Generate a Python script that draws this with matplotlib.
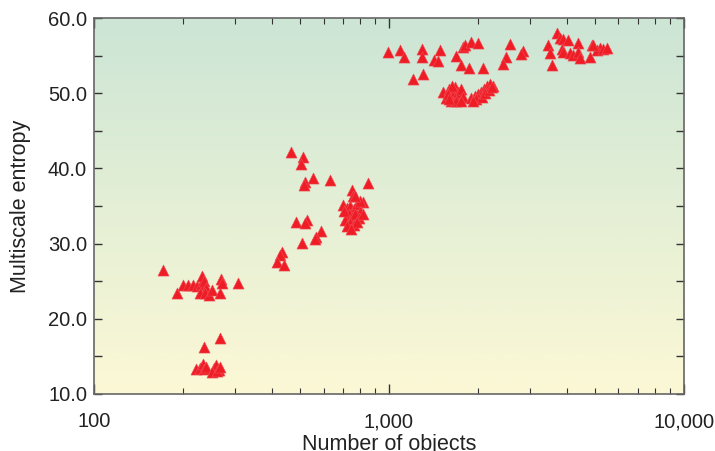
import numpy as np
import matplotlib
matplotlib.use("Agg")
import matplotlib.pyplot as plt
from matplotlib.ticker import FixedLocator, FuncFormatter, NullFormatter
from matplotlib.colors import LinearSegmentedColormap

plt.rcParams['font.family'] = ['Liberation Sans', 'DejaVu Sans']

# ---- data (number of objects, multiscale entropy) ----
low_x = [171, 191, 200, 208, 217, 223, 230, 232, 236, 240, 229, 238, 245, 251, 267, 270, 272, 307]
low_y = [26.5, 23.4, 24.5, 24.5, 24.5, 24.4, 24.6, 25.7, 25.0, 24.1, 23.4, 23.4, 23.2, 23.8, 23.4, 25.3, 24.8, 24.8]

bottom_x = [236, 267, 221, 228, 234, 236, 240, 255, 260, 265, 252, 262, 268]
bottom_y = [16.3, 17.4, 13.3, 13.5, 14.0, 13.3, 13.6, 13.5, 13.9, 13.2, 12.9, 13.1, 13.6]

mid_x = [465, 511, 504, 519, 515, 553, 630, 848, 750, 754, 816, 483, 527, 519, 588, 565, 561, 507,
         434, 427, 417, 440,
         700, 720, 740, 760, 780, 800, 730, 750, 770, 790, 710, 735, 760, 780, 720, 745, 800, 770, 815, 705]
mid_y = [42.2, 41.5, 40.6, 38.2, 37.8, 38.7, 38.5, 38.1, 37.1, 36.3, 35.5, 32.9, 33.1, 32.7, 31.7, 30.9, 30.6, 30.1,
         28.9, 28.5, 27.6, 27.2,
         35.2, 34.8, 35.0, 34.6, 35.3, 34.2, 34.0, 33.6, 33.9, 33.4, 33.2, 32.8, 32.5, 32.9, 32.3, 32.0, 35.7, 36.3, 34.0, 34.3]

high_x = [993, 1089, 1124, 1296, 1296, 1490, 1417, 1466, 1684, 1786, 1814, 1900, 2005, 1758, 1872, 2083,
          1207, 1305,
          1520, 1560, 1600, 1620, 1650, 1680, 1700, 1720, 1750, 1780, 1640, 1580, 1690, 1760, 1600,
          1900, 1950, 2000, 2050, 2100, 2150, 2200, 2250, 1980, 2060, 2120, 2180, 2230, 1920,
          2570, 2846, 2800, 2490, 2434]
high_y = [55.5, 55.7, 54.8, 55.9, 54.8, 55.7, 54.4, 54.3, 54.9, 56.1, 56.4, 56.8, 56.7, 53.8, 53.4, 53.4,
          51.9, 52.6,
          50.2, 49.3, 50.6, 49.0, 49.8, 50.8, 49.2, 50.1, 50.6, 49.5, 51.0, 49.9, 49.0, 49.0, 49.2,
          49.3, 49.6, 49.9, 50.2, 50.6, 50.9, 51.2, 51.0, 49.2, 49.5, 50.0, 50.4, 50.8, 49.0,
          56.5, 55.6, 55.2, 54.8, 53.9]

top_x = [3710, 3810, 3470, 3520, 3570, 3900, 4050, 3860, 3900, 4120, 4220, 4380, 4380, 4450, 4800, 4880,
         5190, 5080, 4900, 5300, 5500]
top_y = [58.0, 57.3, 56.4, 55.3, 53.8, 57.2, 57.1, 55.9, 55.5, 55.3, 55.1, 56.7, 55.5, 54.7, 54.8, 56.4,
         56.0, 55.7, 56.4, 55.9, 56.0]

x_vals = low_x + bottom_x + mid_x + high_x + top_x
y_vals = low_y + bottom_y + mid_y + high_y + top_y

x_major = [100, 1000, 10000]
x_labels = ["100", "1,000", "10,000"]
y_major = [10, 20, 30, 40, 50, 60]

fig = plt.figure(figsize=(7.15, 4.51), dpi=100)
ax = fig.add_axes([0.1315, 0.1264, 0.825, 0.8336])

ax.set_xscale('log')
ax.set_xlim(100, 10000)
ax.set_ylim(10, 60)

cmap = LinearSegmentedColormap.from_list('bg', ['#FCF8D5', '#E4EFD5', '#CCE5D6'])
grad = np.linspace(0, 1, 256).reshape(-1, 1)
ax.imshow(grad, cmap=cmap, origin='lower', aspect='auto',
          extent=[0, 1, 0, 1], transform=ax.transAxes, zorder=0)

ax.scatter(x_vals, y_vals, marker='^', s=64, color='#EE1C25', edgecolors='#F0505A',
           linewidths=0.4, zorder=3, clip_on=False)

ax.xaxis.set_major_locator(FixedLocator(x_major))
ax.set_xticklabels(x_labels)
minors = [m * d for d in (100, 1000) for m in range(2, 10)]
ax.xaxis.set_minor_locator(FixedLocator(minors))
ax.xaxis.set_minor_formatter(NullFormatter())

ax.yaxis.set_major_locator(FixedLocator(y_major))
ax.yaxis.set_major_formatter(FuncFormatter(lambda v, p: f"{v:.1f}"))
ax.yaxis.set_minor_locator(FixedLocator([15, 25, 35, 45, 55]))
ax.yaxis.set_minor_formatter(NullFormatter())

ax.tick_params(axis='both', which='both', direction='in', top=True, right=True,
               colors='#333333', labelcolor='#222222', labelsize=14.5)
ax.tick_params(axis='x', which='major', length=7, width=1.0, pad=13)
ax.tick_params(axis='x', which='minor', length=4, width=0.8)
ax.tick_params(axis='y', which='major', length=6, width=1.0, pad=5)
ax.tick_params(axis='y', which='minor', length=6, width=1.0)

for s in ax.spines.values():
    s.set_color('#666666')
    s.set_linewidth(1.2)

ax.set_xlabel("Number of objects", fontsize=15.5, color='#222222', labelpad=2)
ax.set_ylabel("Multiscale entropy", fontsize=15.5, color='#222222', labelpad=12)

fig.savefig("out.png", dpi=100)
